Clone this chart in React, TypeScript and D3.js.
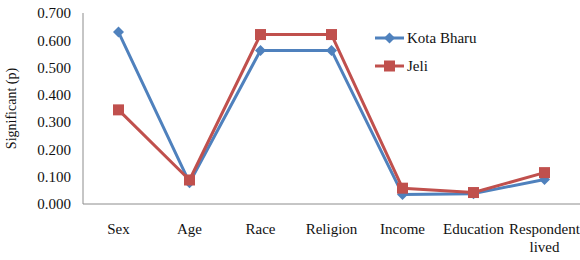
import * as d3 from "d3";
import React, { useEffect, useRef } from "react";

const categories = ["Sex", "Age", "Race", "Religion", "Income", "Education", "Respondent lived"];
const kotaBharu = [0.630, 0.078, 0.563, 0.563, 0.035, 0.038, 0.090];
const jeli = [0.345, 0.088, 0.621, 0.621, 0.058, 0.042, 0.115];
const yTicks = [0, 0.1, 0.2, 0.3, 0.4, 0.5, 0.6, 0.7];

const series = [
  { name: "Kota Bharu", values: kotaBharu, color: "#4F81BD", marker: "diamond" },
  { name: "Jeli", values: jeli, color: "#C0504D", marker: "square" },
];

export default function App() {
  const svgRef = useRef<SVGSVGElement>(null);

  useEffect(() => {
    const svg = d3.select(svgRef.current);
    svg.selectAll("*").remove();

    const left = 83, right = 580, top = 13, bottom = 204;
    const font = "'Liberation Serif', 'Times New Roman', serif";
    const fs = 15;

    const x = d3.scaleBand().domain(categories).range([left, right]);
    const y = d3.scaleLinear().domain([0, 0.7]).range([bottom, top]);

    // axes
    svg.append("line")
      .attr("x1", left).attr("x2", left).attr("y1", top).attr("y2", bottom)
      .attr("stroke", "#8c8c8c").attr("stroke-width", 1);
    svg.append("line")
      .attr("x1", left).attr("x2", right).attr("y1", bottom).attr("y2", bottom)
      .attr("stroke", "#8c8c8c").attr("stroke-width", 1);

    svg.append("g").selectAll("text")
      .data(yTicks).enter().append("text")
      .attr("x", left - 12)
      .attr("y", d => y(d))
      .attr("dy", "0.35em")
      .attr("text-anchor", "end")
      .attr("font-family", font)
      .attr("font-size", fs)
      .attr("fill", "#111")
      .text(d => d.toFixed(3));

    svg.append("text")
      .attr("transform", `translate(16,${(top + bottom) / 2}) rotate(-90)`)
      .attr("text-anchor", "middle")
      .attr("font-family", font)
      .attr("font-size", 14)
      .attr("fill", "#111")
      .text("Significant (p)");

    const xl = svg.append("g").selectAll("text")
      .data(categories).enter().append("text")
      .attr("x", d => x(d)! + x.bandwidth() / 2)
      .attr("y", 234)
      .attr("text-anchor", "middle")
      .attr("font-family", font)
      .attr("font-size", fs)
      .attr("fill", "#111");
    xl.each(function (d) {
      const words = d === "Respondent lived" ? ["Respondent", "lived"] : [d];
      const t = d3.select(this);
      words.forEach((w, i) => {
        t.append("tspan").attr("x", x(d)! + x.bandwidth() / 2).attr("dy", i === 0 ? 0 : 18).text(w);
      });
    });

    const line = d3.line<number>()
      .x((_, i) => x(categories[i])! + x.bandwidth() / 2)
      .y(d => y(d));

    const drawMarker = (g: any, type: string, cx: number, cy: number, color: string) => {
      if (type === "diamond") {
        g.append("path")
          .attr("d", `M${cx},${cy - 5.5}L${cx + 5.5},${cy}L${cx},${cy + 5.5}L${cx - 5.5},${cy}Z`)
          .attr("fill", color);
      } else {
        g.append("rect")
          .attr("x", cx - 5.5).attr("y", cy - 5.5)
          .attr("width", 11).attr("height", 11)
          .attr("fill", color);
      }
    };

    series.forEach(s => {
      const g = svg.append("g");
      g.append("path")
        .datum(s.values)
        .attr("fill", "none")
        .attr("stroke", s.color)
        .attr("stroke-width", 3)
        .attr("stroke-linejoin", "round")
        .attr("d", line);
      s.values.forEach((v, i) => {
        drawMarker(g, s.marker, x(categories[i])! + x.bandwidth() / 2, y(v), s.color);
      });
    });

    // legend
    series.forEach((s, i) => {
      const ly = 38 + i * 28;
      const g = svg.append("g");
      g.append("line")
        .attr("x1", 375).attr("x2", 404).attr("y1", ly).attr("y2", ly)
        .attr("stroke", s.color).attr("stroke-width", 3);
      drawMarker(g, s.marker, 389.5, ly, s.color);
      g.append("text")
        .attr("x", 407).attr("y", ly).attr("dy", "0.35em")
        .attr("font-family", font).attr("font-size", fs).attr("fill", "#111")
        .text(s.name);
    });
  }, []);

  return (
    <svg
      ref={svgRef}
      width={580}
      height={260}
      style={{ position: "absolute", left: 0, top: 0, background: "#fff" }}
    />
  );
}
